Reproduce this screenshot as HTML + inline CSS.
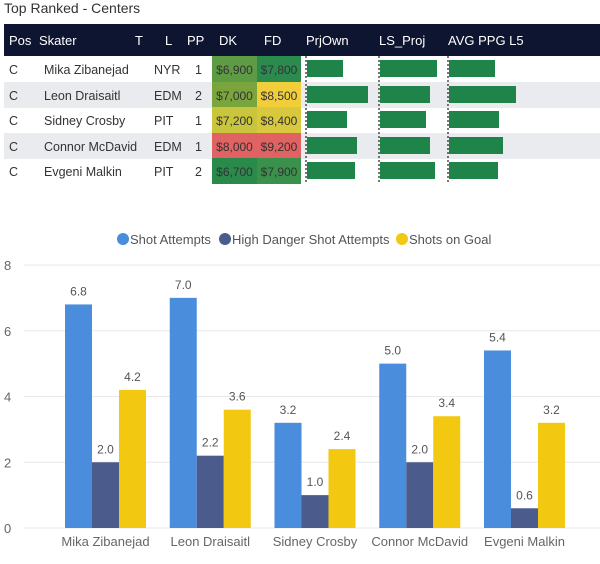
<!DOCTYPE html>
<html><head><meta charset="utf-8"><style>
body{margin:0;width:600px;height:564px;background:#fff;font-family:"Liberation Sans",sans-serif;overflow:hidden;position:relative}
.t{position:absolute;white-space:nowrap}
</style></head><body>
<div class="t" style="left:4px;top:0px;font-size:14px;color:#333">Top Ranked - Centers</div>
<svg id="tbl" width="600" height="190" style="position:absolute;left:0;top:0"></svg>
<svg id="chart" width="600" height="564" style="position:absolute;left:0;top:0"></svg>
<script>
const NS='http://www.w3.org/2000/svg';
function mk(p,tag,a,txt){const e=document.createElementNS(NS,tag);for(const k in a)e.setAttribute(k,a[k]);if(txt!=null)e.textContent=txt;p.appendChild(e);return e;}
// ---- table data ----
const skaters=['Mika Zibanejad','Leon Draisaitl','Sidney Crosby','Connor McDavid','Evgeni Malkin'];
const teams=['NYR','EDM','PIT','EDM','PIT'];
const lines=['1','2','1','1','2'];
const dkVals=['$6,900','$7,000','$7,200','$8,000','$6,700'];
const fdVals=['$7,800','$8,500','$8,400','$9,200','$7,900'];
const dkColors=['#5f9a45','#7aa53c','#c9c53c','#e06262','#2a8a4c'];
const fdColors=['#2b8a4e','#f2cf3a','#d8c83e','#e06262','#3a914c'];
const prjOwn=[36,61,40,50,48];
const lsProj=[57,50,46,50,55];
const avgPpg=[46,67,50,54,49];
const tbl=document.getElementById('tbl');
const hdr=mk(tbl,'rect',{x:4,y:24,width:596,height:32,fill:'#0e1530'});


const heads=[['Pos',9],['Skater',39],['T',135],['L',165],['PP',187],['DK',219],['FD',264],['PrjOwn',306],['LS_Proj',379],['AVG PPG L5',448]];
heads.forEach(h=>{const t=mk(tbl,'text',{x:h[1],y:45,fill:'#fff','font-size':13},h[0]);

});
const rowY=[56,82,107,133,158],rowH=26;
function bw(v){return v;}
skaters.forEach((s,i)=>{
 const y=rowY[i];
 if(i%2==1){const b=mk(tbl,'rect',{x:4,y:y,width:596,height:rowH,fill:'#eaebee'});
 
 }
 const cy=y+18;
 const cells=[['C',9],[s,44],[teams[i],154],[lines[i],195],['PP1',214]];
 cells.forEach(c=>{const t=mk(tbl,'text',{x:c[1],y:cy,fill:'#333','font-size':12.5},c[0]);
 
 });
 const d=mk(tbl,'rect',{x:212,y:y,width:45,height:rowH,fill:dkColors[i]});
 
 
 const f=mk(tbl,'rect',{x:257,y:y,width:44,height:rowH,fill:fdColors[i]});
 
 
 mk(tbl,'text',{x:234.5,y:cy,'text-anchor':'middle',fill:'#333','font-size':12},dkVals[i]);
 mk(tbl,'text',{x:279,y:cy,'text-anchor':'middle',fill:'#333','font-size':12},fdVals[i]);
 [[307,prjOwn],[380,lsProj],[449,avgPpg]].forEach(c=>{
  const r=mk(tbl,'rect',{x:c[0],y:y+4,width:bw(c[1][i]),height:rowH-9,fill:'#1f844a'});
  
  });
});
[306,379,448].forEach(x=>mk(tbl,'line',{x1:x,x2:x,y1:56,y2:184,stroke:'#222','stroke-width':1.2,'stroke-dasharray':'2,2'}));
// ---- chart data ----
const categories=['Mika Zibanejad','Leon Draisaitl','Sidney Crosby','Connor McDavid','Evgeni Malkin'];
const shotAttempts=[6.8,7.0,3.2,5.0,5.4];
const highDanger=[2.0,2.2,1.0,2.0,0.6];
const shotsOnGoal=[4.2,3.6,2.4,3.4,3.2];
const yTicks=[0,2,4,6,8];
const seriesNames=['Shot Attempts','High Danger Shot Attempts','Shots on Goal'];
const colors=['#4a8ddc','#4a5b8c','#f2c811'];
const ch=document.getElementById('chart');
const y0=528,y8=265,yMax=8;
const yS=v=>y0-(v/yMax)*(y0-y8);
const bandStart=53,band=104.75,barW=27,pad=12;
const xS=(i,s)=>bandStart+band*i+pad+s*barW;
yTicks.forEach(t=>{
 const l=mk(ch,'line',{x1:24,x2:600,y1:yS(t),y2:yS(t),stroke:'#e8e8e8','stroke-width':1});
 
 
 const tx=mk(ch,'text',{x:4,y:yS(t)+5,fill:'#666','font-size':13},t);
 
 
});
[shotAttempts,highDanger,shotsOnGoal].forEach((ser,s)=>{
 ser.forEach((v,i)=>{
  const r=mk(ch,'rect',{x:xS(i,s),y:yS(v),width:barW,height:y0-yS(v),fill:colors[s]});
  
  
  const t=mk(ch,'text',{x:xS(i,s)+barW/2,y:yS(v)-9,'text-anchor':'middle',fill:'#555','font-size':12},v.toFixed(1));
  
  
 });
});
categories.forEach((c,i)=>{
 const t=mk(ch,'text',{x:bandStart+band*i+pad+1.5*barW,y:546,'text-anchor':'middle',fill:'#666','font-size':13},c);
 
 
});
const legX=[123,225,402];
seriesNames.forEach((n,s)=>{
 const c=mk(ch,'circle',{cx:legX[s],cy:239,r:6,fill:colors[s]});
 
 
 const t=mk(ch,'text',{x:legX[s]+7,y:244,fill:'#555','font-size':13},n);
 
 
});
</script>
</body></html>
